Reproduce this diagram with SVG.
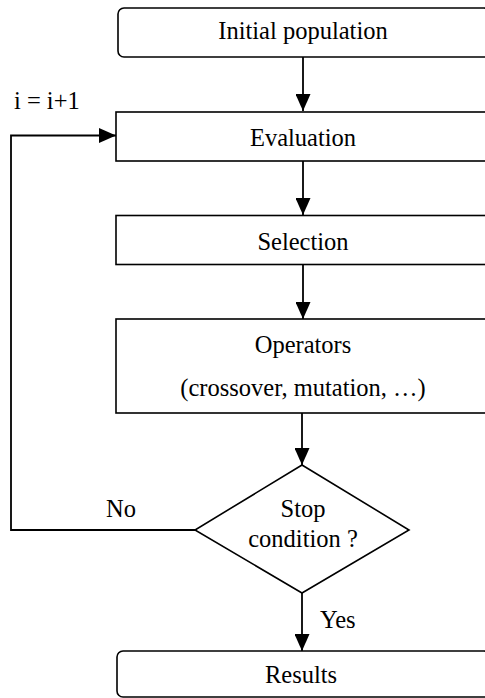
<svg xmlns="http://www.w3.org/2000/svg" width="485" height="698" viewBox="0 0 485 698">
<style>
.box{fill:#fff;stroke:#000;stroke-width:1.6}
text{font-family:'Liberation Serif','Times New Roman',serif;font-size:24.5px;fill:#000}
.c{text-anchor:middle}
.ln{fill:none;stroke:#000;stroke-width:1.8}
</style>
<defs>
<marker id="ah" markerUnits="userSpaceOnUse" markerWidth="17" markerHeight="15" refX="17" refY="7.5" orient="auto">
<path d="M0,0 L17,7.5 L0,15 z" fill="#000"/>
</marker>
</defs>
<rect width="485" height="698" fill="#fff"/>
<g id="connectors">
<line class="ln" x1="303" y1="57" x2="303" y2="111" marker-end="url(#ah)"/>
<line class="ln" x1="303" y1="161" x2="303" y2="215" marker-end="url(#ah)"/>
<line class="ln" x1="303" y1="265" x2="303" y2="319" marker-end="url(#ah)"/>
<line class="ln" x1="302" y1="413" x2="302" y2="465" marker-end="url(#ah)"/>
<line class="ln" x1="302" y1="593" x2="302" y2="651" marker-end="url(#ah)"/>
<polyline class="ln" points="195,530 11,530 11,135.5 116,135.5" marker-end="url(#ah)"/>
<text x="14" y="109">i = i+1</text>
<text x="106" y="517">No</text>
<text x="320" y="628">Yes</text>
</g>
<g id="initial">
<rect class="box" x="118" y="8" width="372" height="49" rx="6"/>
<text class="c" x="303" y="39">Initial population</text>
</g>
<g id="evaluation">
<rect class="box" x="116" y="112" width="374" height="49"/>
<text class="c" x="303" y="146">Evaluation</text>
</g>
<g id="selection">
<rect class="box" x="116" y="215.5" width="374" height="49"/>
<text class="c" x="303" y="250">Selection</text>
</g>
<g id="operators">
<rect class="box" x="116" y="319" width="374" height="94"/>
<text class="c" x="303" y="353">Operators</text>
<text class="c" x="303" y="396">(crossover, mutation, …)</text>
</g>
<g id="stop">
<polygon class="box" points="302,465 409,530 302,593 195,530"/>
<text class="c" x="303" y="517">Stop</text>
<text class="c" x="303" y="547">condition ?</text>
</g>
<g id="results">
<rect class="box" x="117" y="651" width="373" height="46" rx="6"/>
<text class="c" x="301" y="683">Results</text>
</g>
</svg>
